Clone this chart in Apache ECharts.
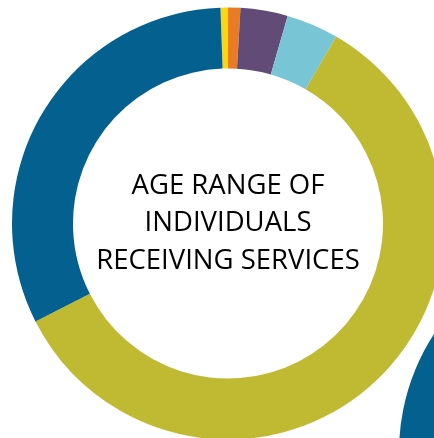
<!DOCTYPE html>
<html>
<head>
<meta charset="utf-8">
<script src="https://cdn.jsdelivr.net/npm/echarts@6/dist/echarts.min.js"></script>
<style>
html,body{margin:0;padding:0;background:#fff;}
#chart{width:434px;height:438px;}
</style>
</head>
<body>
<div id="chart"></div>
<script>
// Age-range categories (not labelled in the picture) and their shares (%)
var categories = ['Age group 1', 'Age group 2', 'Age group 3', 'Age group 4', 'Age group 5', 'Age group 6'];
var values = [0.56, 0.92, 3.53, 3.89, 59.17, 31.94];
var colors = ['#fcd517', '#e97b25', '#634b78', '#78c5d6', '#c0b932', '#04618f'];
var titleLines = ['AGE RANGE OF', 'INDIVIDUALS', 'RECEIVING SERVICES'];
// neighbouring chart, only its edge is visible
var neighbourValues = [100];

var chart = echarts.init(document.getElementById('chart'), null, {renderer: 'canvas'});
chart.setOption({
  animation: false,
  series: [{
    type: 'pie',
    center: [228, 223.5],
    radius: [155, 216],
    startAngle: 92,
    clockwise: true,
    label: {show: false},
    labelLine: {show: false},
    emphasis: {disabled: true},
    itemStyle: {borderWidth: 0},
    data: categories.map(function (c, i) {
      return {name: c, value: values[i], itemStyle: {color: colors[i]}};
    })
  }, {
    type: 'pie',
    center: [615, 452],
    radius: [155, 216],
    label: {show: false},
    labelLine: {show: false},
    emphasis: {disabled: true},
    itemStyle: {borderWidth: 0, color: '#04618f'},
    data: neighbourValues.map(function (v) { return {name: 'next', value: v}; })
  }],
  graphic: [{
    type: 'text',
    x: 228,
    y: 223.5,
    style: {
      text: titleLines.join('\n'),
      align: 'center',
      verticalAlign: 'middle',
      fontFamily: 'Open Sans',
      fontSize: 27.5,
      lineHeight: 37.5,
      fill: '#000'
    }
  }]
});
</script>
</body>
</html>
